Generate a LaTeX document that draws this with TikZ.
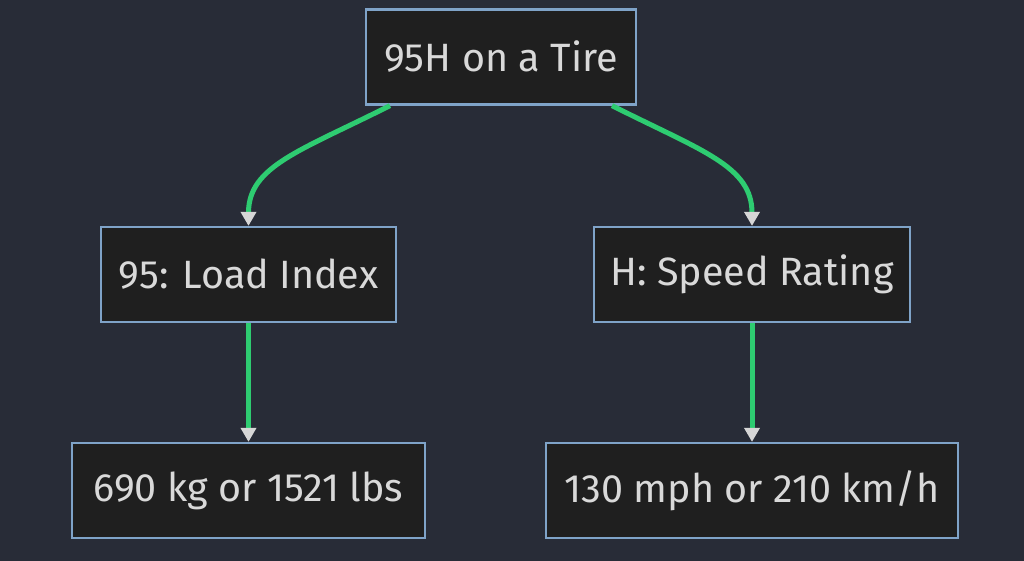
\documentclass[tikz,border=0pt]{standalone}
\usepackage{fontspec}
\setmainfont{Fira Sans}
\usetikzlibrary{arrows.meta,calc}
\definecolor{bg}{HTML}{282C37}
\definecolor{nodefill}{HTML}{1F1F1F}
\definecolor{nodeborder}{HTML}{7FA3C8}
\definecolor{txt}{HTML}{D9D9D9}
\definecolor{edge}{HTML}{2ECC71}
\definecolor{tipcol}{HTML}{D6D6D6}
\begin{document}
\begin{tikzpicture}[x=1pt,y=1pt,
  box/.style={draw=nodeborder, line width=2.2pt, fill=nodefill, text=txt,
    font=\fontsize{39.5}{44}\selectfont, inner sep=0pt, minimum height=95pt},
  link/.style={draw=edge, line width=5pt,
    -{Triangle[width=15pt,length=14pt,color=tipcol,fill=tipcol]}}]
\fill[bg] (0,0) rectangle (1024,-561);
\useasboundingbox (0,0) rectangle (1024,-561);
\node[box, minimum width=270pt] (top) at (501,-57) {95H on a Tire};
\node[box, minimum width=295pt] (load) at (248.5,-274.5) {95: Load Index};
\node[box, minimum width=316pt] (speed) at (752,-274.5) {H: Speed Rating};
\node[box, minimum width=353pt] (kg) at (248.5,-490.5) {690 kg or 1521 lbs};
\node[box, minimum width=412pt] (mph) at (752,-490.5) {130 mph or 210 km/h};
\draw[link] ($(top.south)+(-111,0)$) .. controls ($(top.south)+(-200,-45)$) and ($(load.north)+(0,60)$) .. (load.north);
\draw[link] ($(top.south)+(111,0)$) .. controls ($(top.south)+(200,-45)$) and ($(speed.north)+(0,60)$) .. (speed.north);
\draw[link] (load.south) -- (kg.north);
\draw[link] (speed.south) -- (mph.north);
\end{tikzpicture}
\end{document}
